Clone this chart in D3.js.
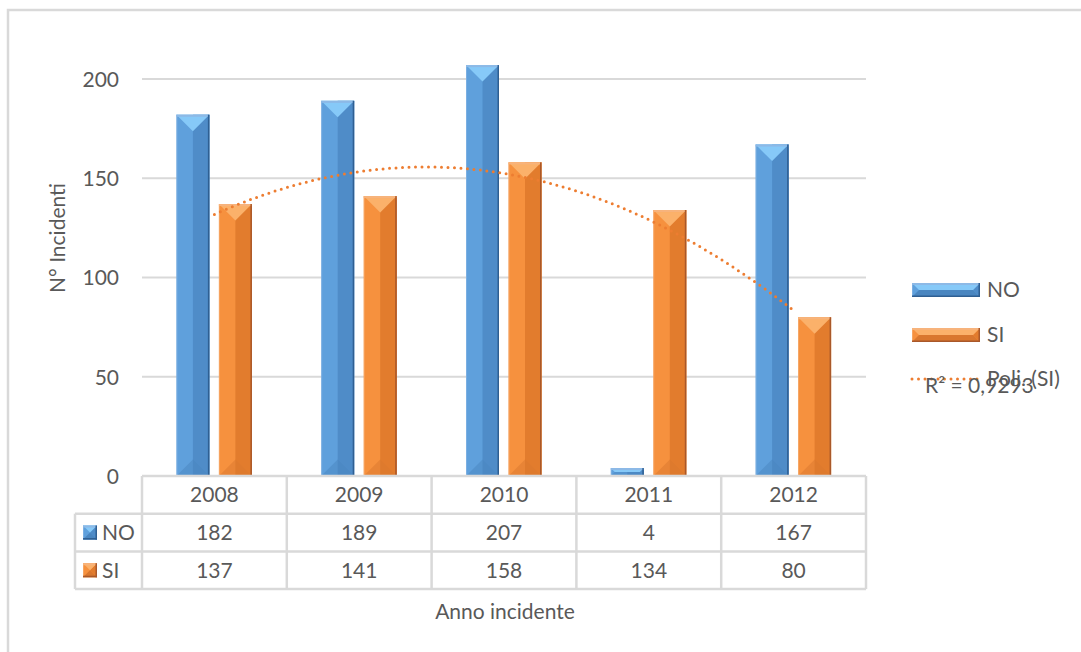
<!DOCTYPE html>
<html><head><meta charset="utf-8">
<script src="https://cdn.jsdelivr.net/npm/d3@7"></script>
<style>
html,body{margin:0;padding:0;background:#fff;}
svg{display:block;}
text{font-family:"Lato","Open Sans",sans-serif;fill:#595959;}
</style></head>
<body><svg id="c" width="1081" height="652"></svg>
<script>
const categories = ["2008","2009","2010","2011","2012"];
const seriesNames = ["NO","SI"];
const noValues = [182,189,207,4,167];
const siValues = [137,141,158,134,80];
const yTicks = [0,50,100,150,200];
const trendLabel = "Poli. (SI)";
const r2Label = "R² = 0,9293";
const yTitle = "N° Incidenti";
const xTitle = "Anno incidente";

const svg = d3.select("#c");
const W = 1081, H = 652;
const plotL = 142, plotR = 866, plotT = 79, plotB = 476;
const rowH = 37.7;
const grid = "#d9d9d9";

const x = d3.scaleBand().domain(categories).range([plotL, plotR]).padding(0);
const y = d3.scaleLinear().domain([0, 200]).range([plotB, plotT]);

// outer border
svg.append("rect").attr("x",8).attr("y",10).attr("width",W).attr("height",H)
  .attr("fill","none").attr("stroke",grid).attr("stroke-width",2.5);

// gridlines
svg.append("g").selectAll("line").data(yTicks.filter(d=>d>0)).join("line")
  .attr("x1",plotL).attr("x2",plotR).attr("y1",d=>y(d)).attr("y2",d=>y(d))
  .attr("stroke",grid).attr("stroke-width",2);

// y axis labels
const yAxis = d3.axisLeft(y).tickValues(yTicks).tickSize(0).tickPadding(0);
const yg = svg.append("g").attr("transform",`translate(119,0)`).call(yAxis);
yg.select(".domain").remove();
yg.selectAll("text").attr("font-size",21).attr("fill","#595959")
  .style("font-family","Lato").attr("dy","0.35em");

// y title
svg.append("text").attr("transform","translate(65,238) rotate(-90)")
  .attr("text-anchor","middle").attr("font-size",21).text(yTitle);

// bevel helper
function bevel(g, bx, by, w, h, c, horiz) {
  const d = Math.min(w, h) / 2;
  const gg = g.append("g");
  gg.append("rect").attr("x",bx).attr("y",by).attr("width",w).attr("height",h).attr("fill",c.mid);
  if (horiz) {
    gg.append("polygon").attr("points",[[bx+w,by],[bx+w,by+h],[bx+w-d,by+h/2]].join(" ")).attr("fill",c.right);
    gg.append("polygon").attr("points",[[bx,by+h],[bx+w,by+h],[bx+w-d,by+h-d],[bx+d,by+h-d]].join(" ")).attr("fill",c.bottom);
  } else {
    gg.append("polygon").attr("points",[[bx+w/2,by],[bx+w,by],[bx+w,by+h],[bx+w/2,by+h]].join(" ")).attr("fill",c.right);
  }
  if (h > 0.5) {
    gg.append("polygon").attr("points",[[bx,by],[bx+w,by],[bx+w-d,by+d],[bx+d,by+d]].join(" ")).attr("fill",c.top);
    if (!horiz) gg.append("polygon").attr("points",[[bx,by+h],[bx+w,by+h],[bx+w-d,by+h-d],[bx+d,by+h-d]].join(" ")).attr("fill",c.bottom).attr("opacity",0.5);
  }
  gg.append("rect").attr("x",bx).attr("y",by).attr("width",w).attr("height",Math.min(2,h)).attr("fill",c.edgeTop);
  gg.append("rect").attr("x",bx+w-1.5).attr("y",by).attr("width",1.5).attr("height",h).attr("fill",c.edge);
  gg.append("rect").attr("x",bx).attr("y",by).attr("width",1).attr("height",h).attr("fill",c.edgeTop).attr("opacity",0.6);
  if (horiz) gg.append("rect").attr("x",bx).attr("y",by+h-1.5).attr("width",w).attr("height",1.5).attr("fill",c.edge);
}
const blue = {mid:"#5fa0dc", right:"#4f8cc8", top:"#86c9f8", bottom:"#4a86c0", edge:"#2f5f92", edgeTop:"#8db9e6"};
const orange = {mid:"#f6913e", right:"#e27c2d", top:"#fbb16a", bottom:"#d9772e", edge:"#a9582a", edgeTop:"#f7b37c"};

const barW = 33;
const bars = svg.append("g");
categories.forEach((cat,i) => {
  const cx = x(cat) + x.bandwidth()/2;
  bevel(bars, cx-38, y(noValues[i]), barW, plotB - y(noValues[i]), blue, false);
  bevel(bars, cx+4.5, y(siValues[i]), barW, plotB - y(siValues[i]), orange, false);
});

// polynomial (order 2) trendline fitted by least squares to SI
const n = siValues.length;
const xs = siValues.map((_,i)=>i+1);
const S = k => d3.sum(xs, v=>Math.pow(v,k));
const T = k => d3.sum(xs, (v,i)=>Math.pow(v,k)*siValues[i]);
function solve3(A,b){
  const M = A.map((r,i)=>[...r,b[i]]);
  for(let i=0;i<3;i++){
    let p=i; for(let r=i+1;r<3;r++) if(Math.abs(M[r][i])>Math.abs(M[p][i])) p=r;
    [M[i],M[p]]=[M[p],M[i]];
    for(let r=0;r<3;r++){ if(r===i) continue; const f=M[r][i]/M[i][i]; for(let c=i;c<4;c++) M[r][c]-=f*M[i][c]; }
  }
  return M.map((r,i)=>r[3]/r[i]);
}
const coef = solve3([[n,S(1),S(2)],[S(1),S(2),S(3)],[S(2),S(3),S(4)]],[T(0),T(1),T(2)]);
const poly = t => coef[0]+coef[1]*t+coef[2]*t*t;
const xPos = t => x(categories[0]) + x.bandwidth()/2 + (t-1)*x.bandwidth();
const pts = d3.range(1, 5.001, 0.05).map(t=>[xPos(t), y(poly(t))]);
svg.append("path").attr("d", d3.line()(pts)).attr("fill","none")
  .attr("stroke","#ed7d31").attr("stroke-width",3).attr("stroke-dasharray","0 6.5").attr("stroke-linecap","round");

// data table
const tb = svg.append("g");
const tL = 75;
const r1 = plotB, r2 = plotB + rowH, r3 = plotB + 2*rowH, r4 = plotB + 3*rowH;
const ln = (x1,y1,x2,y2)=>tb.append("line").attr("x1",x1).attr("y1",y1).attr("x2",x2).attr("y2",y2).attr("stroke",grid).attr("stroke-width",2.5);
ln(plotL, r1, plotR, r1);
ln(tL, r2, plotR, r2);
ln(tL, r3, plotR, r3);
ln(tL, r4, plotR, r4);
ln(tL, r2, tL, r4);
categories.forEach(c=>ln(x(c), r1, x(c), r4));
ln(plotR, r1, plotR, r4);

const rows = [noValues, siValues];
categories.forEach((c,i)=>{
  const cx = x(c)+x.bandwidth()/2;
  tb.append("text").attr("x",cx).attr("y",r1+rowH/2).attr("dy","0.35em").attr("text-anchor","middle").attr("font-size",21).text(c);
  rows.forEach((vals,j)=>{
    tb.append("text").attr("x",cx).attr("y",r2+j*rowH+rowH/2).attr("dy","0.35em").attr("text-anchor","middle").attr("font-size",21).text(vals[i]);
  });
});
[blue, orange].forEach((c,j)=>{
  const yy = r2 + j*rowH + rowH/2;
  bevel(tb, 83, yy-7, 14, 14, c, true);
  tb.append("text").attr("x",102).attr("y",yy).attr("dy","0.35em").attr("font-size",21).text(seriesNames[j]);
});

// x title
svg.append("text").attr("x",505).attr("y",612).attr("dy","0.35em").attr("text-anchor","middle").attr("font-size",21).text(xTitle);

// legend
const lg = svg.append("g");
[blue, orange].forEach((c,j)=>{
  const yy = 290 + j*45;
  bevel(lg, 912, yy-7, 68, 14, c, true);
  lg.append("text").attr("x",987).attr("y",yy).attr("dy","0.35em").attr("font-size",21).text(seriesNames[j]);
});
lg.append("line").attr("x1",912).attr("x2",978).attr("y1",379).attr("y2",379)
  .attr("stroke","#ed7d31").attr("stroke-width",3).attr("stroke-dasharray","0 6.5").attr("stroke-linecap","round");
lg.append("text").attr("x",987).attr("y",379).attr("dy","0.35em").attr("font-size",21).text(trendLabel);
lg.append("text").attr("x",925).attr("y",386).attr("dy","0.35em").attr("font-size",21).text(r2Label);
</script></body></html>
